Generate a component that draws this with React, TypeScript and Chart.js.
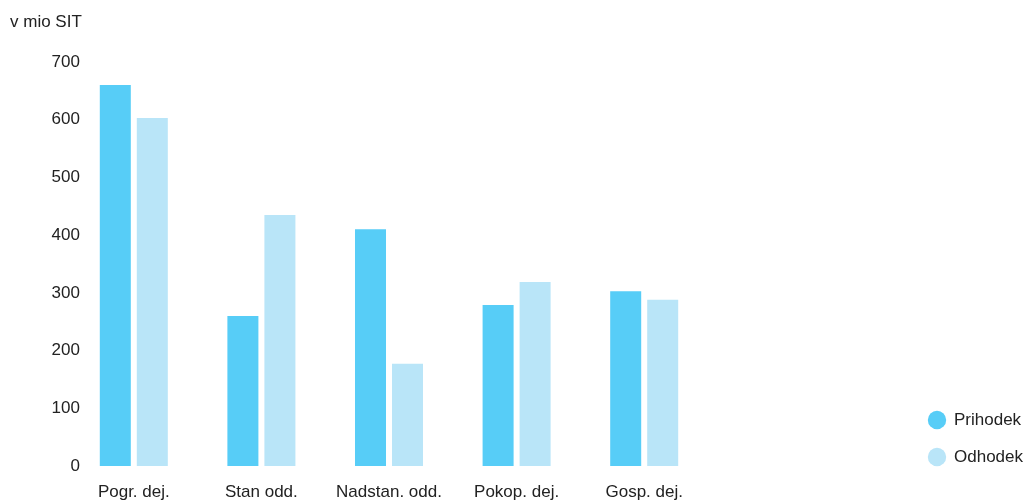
import React, { useEffect, useRef } from "react";
import { Chart, registerables } from "chart.js";

Chart.register(...registerables);

const categories = ["Pogr. dej.", "Stan odd.", "Nadstan. odd.", "Pokop. dej.", "Gosp. dej."];
const prihodek = [660, 260, 410, 279, 303];
const odhodek = [603, 435, 177, 319, 288];
const seriesNames = ["Prihodek", "Odhodek"];
const unitLabel = "v mio SIT";
const yMax = 700;
const yStep = 100;

const FONT = "'Liberation Sans', Arial, Helvetica, sans-serif";
const TEXT = "#222222";

export default function App() {
  const ref = useRef<HTMLCanvasElement | null>(null);

  useEffect(() => {
    document.body.style.margin = "0";
    const canvas = ref.current;
    if (!canvas) return;
    const chart = new Chart(canvas, {
      type: "bar",
      data: {
        labels: categories,
        datasets: [
          {
            label: seriesNames[0],
            data: prihodek,
            backgroundColor: "#57CDF7",
            borderWidth: 0,
            categoryPercentage: 0.58,
            barPercentage: 0.838,
          },
          {
            label: seriesNames[1],
            data: odhodek,
            backgroundColor: "#B9E5F8",
            borderWidth: 0,
            categoryPercentage: 0.58,
            barPercentage: 0.838,
          },
        ],
      },
      options: {
        responsive: false,
        animation: false,
        layout: { padding: { left: 10, right: -6, top: 0, bottom: 18.5 } },
        plugins: {
          tooltip: { enabled: false },
          title: {
            display: true,
            text: unitLabel,
            align: "start",
            color: TEXT,
            font: { family: FONT, size: 17, weight: "normal" },
            padding: { top: 12, bottom: 29.6 },
          },
          legend: {
            display: true,
            position: "right",
            align: "end",
            labels: {
              usePointStyle: true,
              pointStyle: "circle",
              boxHeight: 13,
              padding: 20,
              color: TEXT,
              font: { family: FONT, size: 17 },
            },
          },
        },
        scales: {
          x: {
            grid: { display: false, drawTicks: false },
            border: { display: false },
            ticks: {
              color: TEXT,
              font: { family: FONT, size: 17 },
              padding: -36.2,
              mirror: true,
              maxRotation: 0,
              autoSkip: false,
            },
            afterFit: (s: any) => {
              s.height = 19.5;
            },
          },
          y: {
            min: 0,
            max: yMax,
            grid: { display: false, drawTicks: false },
            border: { display: false },
            ticks: {
              stepSize: yStep,
              color: TEXT,
              font: { family: FONT, size: 17 },
              mirror: true,
              crossAlign: "far",
              padding: -18.5,
            },
            afterFit: (s: any) => {
              s.width = 60;
            },
          },
          y2: {
            position: "right",
            display: true,
            grid: { display: false, drawTicks: false },
            border: { display: false },
            ticks: { display: false },
            afterFit: (s: any) => {
              s.width = 200.5;
            },
          },
        },
      },
    } as any);
    return () => chart.destroy();
  }, []);

  return (
    <div style={{ width: 1027, height: 504 }}>
      <canvas ref={ref} width={1027} height={504} style={{ display: "block" }} />
    </div>
  );
}
